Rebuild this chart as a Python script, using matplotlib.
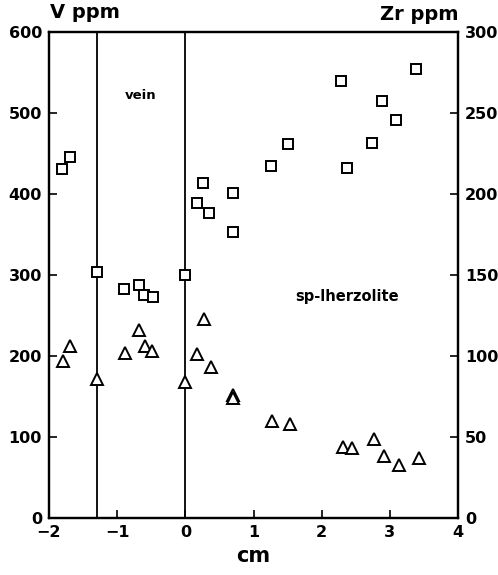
import numpy as np
import matplotlib.pyplot as plt

plt.rcParams['font.family'] = ['DejaVu Sans']
plt.rcParams['font.weight'] = 'bold'

# V ppm (squares, left axis)
v_x = [-1.81, -1.69, -1.30, -0.90, -0.68, -0.60, -0.47, 0.00, 0.17, 0.26, 0.35,
       0.70, 0.70, 1.25, 1.50, 2.29, 2.37, 2.74, 2.89, 3.09, 3.39]
v_ppm = [431, 446, 304, 283, 288, 275, 273, 300, 389, 413, 376,
         401, 353, 434, 462, 539, 432, 463, 515, 492, 554]

# Zr ppm (triangles, right axis)
zr_x = [-1.79, -1.69, -1.30, -0.88, -0.68, -0.59, -0.49, 0.00, 0.17, 0.27, 0.37,
        0.70, 0.70, 1.27, 1.53, 2.32, 2.44, 2.77, 2.92, 3.13, 3.43]
zr_ppm = [97, 106, 86, 102, 116, 106, 103, 84, 101, 123, 93,
          76, 74, 60, 58, 44, 43, 49, 38, 33, 37]

boundaries = [-1.3, 0.0]

fig = plt.figure(figsize=(4.98, 5.75), dpi=100)
ax = fig.add_axes([0.0984, 0.0991, 0.8213, 0.8452])
ax2 = ax.twinx()

for b in boundaries:
    ax.axvline(b, color='black', lw=1.3, zorder=1)

ax.plot(v_x, v_ppm, linestyle='none', marker='s', ms=7, mfc='white', mec='black',
        mew=1.4, zorder=3)
ax2.plot(zr_x, zr_ppm, linestyle='none', marker='^', ms=9, mfc='white', mec='black',
         mew=1.4, zorder=3)

ax.set_xlim(-2, 4)
ax.set_ylim(0, 600)
ax2.set_ylim(0, 300)
ax.set_xticks([-2, -1, 0, 1, 2, 3, 4])
ax.set_yticks(np.arange(0, 601, 100))
ax2.set_yticks(np.arange(0, 301, 50))

ax.tick_params(axis='both', direction='in', length=6, width=1.2, labelsize=11.5, pad=5)
ax.tick_params(axis='y', right=False)
ax2.tick_params(axis='y', direction='in', length=6, width=1.2, labelsize=11.5, pad=5)

for a in (ax, ax2):
    for s in a.spines.values():
        s.set_linewidth(1.6)
    for lab in a.get_xticklabels() + a.get_yticklabels():
        lab.set_fontweight('bold')

ax.set_xlabel('cm', fontsize=15, fontweight='bold', labelpad=4)
fig.text(0.10, 0.962, 'V ppm', fontsize=14, fontweight='bold', ha='left', va='bottom')
fig.text(0.92, 0.958, 'Zr ppm', fontsize=14, fontweight='bold', ha='right', va='bottom')

ax.text(-0.65, 522, 'vein', fontsize=9.5, fontweight='bold', ha='center', va='center')
ax.text(2.37, 273, 'sp-lherzolite', fontsize=10.5, fontweight='bold', ha='center', va='center')

fig.savefig('out.png', dpi=100)
